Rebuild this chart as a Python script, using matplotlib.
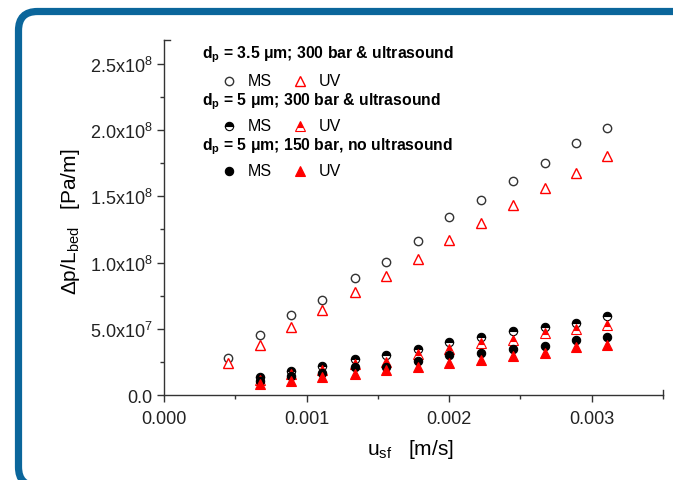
import matplotlib
matplotlib.use('Agg')
import matplotlib.pyplot as plt
from matplotlib.patches import FancyBboxPatch
from matplotlib.ticker import MultipleLocator, FuncFormatter
from matplotlib.transforms import IdentityTransform

plt.rcParams['font.family'] = ['Liberation Sans', 'DejaVu Sans']
plt.rcParams['mathtext.fontset'] = 'custom'
plt.rcParams['mathtext.rm'] = 'Liberation Sans'
plt.rcParams['mathtext.it'] = 'Liberation Sans'
plt.rcParams['mathtext.bf'] = 'Liberation Sans:bold'

# superficial velocity [m/s]
u_35 = [0.00045, 0.00067, 0.00089, 0.00111, 0.00134, 0.00156, 0.00178,
        0.00200, 0.00222, 0.00245, 0.00267, 0.00289, 0.00311]
u_5 = [0.00067, 0.00089, 0.00111, 0.00134, 0.00156, 0.00178,
       0.00200, 0.00222, 0.00245, 0.00267, 0.00289, 0.00311]

# dp = 3.5 um, 300 bar & ultrasound
ms_35 = [2.76e7, 4.52e7, 6.03e7, 7.18e7, 8.8e7, 1.007e8, 1.163e8,
         1.346e8, 1.472e8, 1.615e8, 1.753e8, 1.904e8, 2.014e8]
uv_35 = [2.41e7, 3.79e7, 5.1e7, 6.4e7, 7.76e7, 8.99e7, 1.03e8,
         1.17e8, 1.296e8, 1.432e8, 1.562e8, 1.678e8, 1.803e8]
# dp = 5 um, 300 bar & ultrasound
ms_300 = [1.33e7, 1.83e7, 2.16e7, 2.71e7, 3.0e7, 3.5e7,
          3.97e7, 4.35e7, 4.85e7, 5.17e7, 5.47e7, 5.97e7]
uv_300 = [1.15e7, 1.58e7, 1.9e7, 2.33e7, 2.5e7, 3.1e7,
          3.5e7, 3.9e7, 4.15e7, 4.65e7, 4.97e7, 5.3e7]
# dp = 5 um, 150 bar, no ultrasound
ms_150 = [1.03e7, 1.45e7, 1.66e7, 2.08e7, 2.13e7, 2.6e7,
          3.0e7, 3.2e7, 3.5e7, 3.7e7, 4.15e7, 4.35e7]
uv_150 = [0.83e7, 1.08e7, 1.33e7, 1.58e7, 1.9e7, 2.1e7,
          2.45e7, 2.65e7, 2.95e7, 3.2e7, 3.6e7, 3.8e7]

headings = [r'd$_\mathregular{p}$ = 3.5 μm; 300 bar & ultrasound',
            r'd$_\mathregular{p}$ = 5 μm; 300 bar & ultrasound',
            r'd$_\mathregular{p}$ = 5 μm; 150 bar, no ultrasound']

BLUE = '#0b669b'
GREY = '#333333'

circ_open = dict(marker='o', ms=6, mfc='white', mec=GREY, mew=1.0, ls='none')
tri_open = dict(marker='^', ms=7, mfc='white', mec='red', mew=1.0, ls='none')
circ_half = dict(marker='o', ms=6, mfc='black', mfcalt='white', fillstyle='top',
                 mec='black', mew=0.8, ls='none')
tri_half = dict(marker='^', ms=7, mfc='red', mfcalt='white', fillstyle='top',
                mec='red', mew=0.8, ls='none')
circ_full = dict(marker='o', ms=6, mfc='black', mec='black', mew=0.8, ls='none')
tri_full = dict(marker='^', ms=7, mfc='red', mec='red', mew=0.8, ls='none')

fig = plt.figure(figsize=(6.73, 4.81), dpi=100)
ax = fig.add_axes([0.2437, 0.1767, 0.7415, 0.738])

ax.plot(u_35, ms_35, **circ_open)
ax.plot(u_35, uv_35, **tri_open)
ax.plot(u_5, ms_300, **circ_half)
ax.plot(u_5, uv_300, **tri_half)
ax.plot(u_5, ms_150, **circ_full)
ax.plot(u_5, uv_150, **tri_full)

ax.set_xlim(0, 0.0035)
ax.set_ylim(0, 2.68e8)
ax.xaxis.set_major_locator(MultipleLocator(0.001))
ax.xaxis.set_minor_locator(MultipleLocator(0.0005))
ax.yaxis.set_major_locator(MultipleLocator(5e7))
ax.yaxis.set_minor_locator(MultipleLocator(2.5e7))
ax.xaxis.set_major_formatter(FuncFormatter(lambda v, p: '%.3f' % v))


def sci(v, p):
    if v == 0:
        return '0.0'
    e = 0
    m = v
    while abs(m) >= 10:
        m /= 10.0
        e += 1
    return r'%.1fx10$^\mathregular{%d}$' % (m, e)


ax.yaxis.set_major_formatter(FuncFormatter(sci))

for s in ['top', 'right']:
    ax.spines[s].set_visible(False)
for s in ['left', 'bottom']:
    ax.spines[s].set_color(GREY)
    ax.spines[s].set_linewidth(1.0)
ax.tick_params(which='both', direction='out', color=GREY, width=1.0,
               labelsize=13, labelcolor='#222222')
ax.tick_params(which='major', length=5)
ax.tick_params(which='minor', length=3)
ax.tick_params(axis='x', pad=6)

# small corner stubs of the frame
ax.plot([0, 0.012], [1, 1], color=GREY, lw=1.0, transform=ax.transAxes, clip_on=False)
ax.plot([1, 1], [0, 0.015], color=GREY, lw=1.0, transform=ax.transAxes, clip_on=False)

ax.set_xlabel(r'u$_\mathregular{sf}$   [m/s]', fontsize=15)
ax.set_ylabel(r'Δp/L$_\mathregular{bed}$   [Pa/m]', fontsize=15)
ax.xaxis.set_label_coords(0.493, -0.118)
ax.yaxis.set_label_coords(-0.165, 0.49)

# legend block
head_y = [0.9606, 0.829, 0.7023]
row_y = [0.8854, 0.7586, 0.6318]
markers = [(circ_open, tri_open), (circ_half, tri_half), (circ_full, tri_full)]
for hy, ry, (cm, tm), txt in zip(head_y, row_y, markers, headings):
    ax.text(0.076, hy, txt, transform=ax.transAxes, fontsize=11.3,
            fontweight='bold', va='center', ha='left')
    ax.plot([0.130], [ry], transform=ax.transAxes, clip_on=False, **cm)
    ax.text(0.168, ry, 'MS', transform=ax.transAxes, fontsize=11.5, va='center')
    ax.plot([0.2725], [ry], transform=ax.transAxes, clip_on=False, **tm)
    ax.text(0.3106, ry, 'UV', transform=ax.transAxes, fontsize=11.5, va='center')

# rounded blue border
frame = FancyBboxPatch((18.5, -6), 700, 474.5,
                       boxstyle='round,pad=0,rounding_size=19',
                       lw=5.2, ec=BLUE, fc='none', transform=IdentityTransform())
fig.add_artist(frame)

fig.savefig('out.png', dpi=100)
